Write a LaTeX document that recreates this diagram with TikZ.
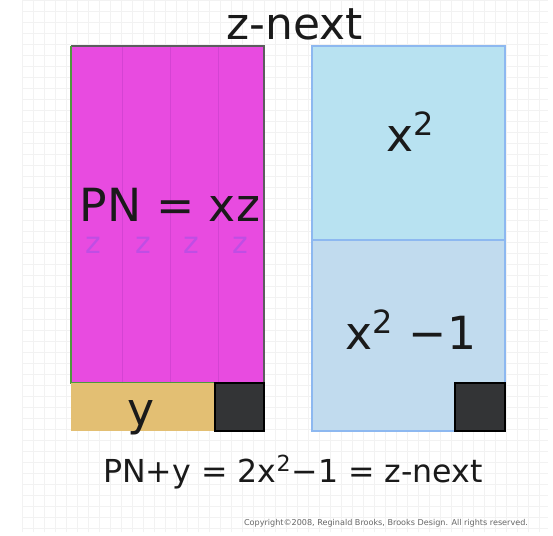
\documentclass[tikz,border=0pt]{standalone}
\usepackage{fontspec}
\setmainfont{DejaVu Sans}
\usepackage{xcolor}
\definecolor{pMagenta}{HTML}{E84BE0}
\definecolor{pStrip}{HTML}{C83FCB}
\definecolor{pEdge}{HTML}{4E9A3C}
\definecolor{pSky}{HTML}{B8E2F1}
\definecolor{pMist}{HTML}{C1DBEE}
\definecolor{pLine}{HTML}{8DB8F0}
\definecolor{pSand}{HTML}{E3BF73}
\definecolor{pDark}{HTML}{333436}
\definecolor{pInk}{HTML}{1A1A1A}
\definecolor{pZed}{HTML}{B04FE6}
\usepackage{tikz}
\usetikzlibrary{positioning}

\begin{document}
\begin{tikzpicture}[x=0.02cm, y=-0.02cm]
\useasboundingbox (0,0) rectangle (553,536);
\fill[white] (0,0) rectangle (553,536);
\draw[black!5, step=11*0.02cm] (22,0) grid (548,532);

% left block
\fill[pMagenta] (71,46) rectangle (264,383);
\foreach \sx in {122,170,218}
  \draw[pStrip, opacity=0.6] (\sx,46) -- (\sx,383);
\draw[pDark!80, line width=0.8pt] (71,46) -- (264,46) -- (264,383);
\draw[pEdge, line width=0.9pt] (71,46) -- (71,383) -- (264,383);
\fill[pSand] (71,383) rectangle (215,431);
\fill[pDark] (215,383) rectangle (264,431);
\draw[black, line width=0.6pt] (215,383) rectangle (264,431);

% right block
\fill[pSky] (312,46) rectangle (505,240);
\fill[pMist] (312,240) rectangle (505,431);
\draw[pLine, line width=1pt] (312,46) rectangle (505,431);
\draw[pLine, line width=1.4pt] (312,240) -- (505,240);
\fill[pDark] (455,383) rectangle (505,431);
\draw[black, line width=0.6pt] (455,383) rectangle (505,431);

\node[font=\fontsize{25}{28}\selectfont, color=pInk] (top) at (295,24) {z-next};
\node[font=\fontsize{26}{30}\selectfont, color=pInk, inner sep=0pt] (pn) at (170,205) {PN = xz};
\foreach \zx [count=\i] in {93,143,191,240}
  \node[font=\fontsize{17}{19}\selectfont, color=pZed, opacity=0.7, inner sep=0pt] (z\i) at (\zx,245) {z};
\node[font=\fontsize{26}{30}\selectfont, color=pInk] (yy) at (141,418) {y};
\node[font=\fontsize{26}{30}\selectfont, color=pInk] (sq) at (411,132) {x\textsuperscript{2}};
\node[font=\fontsize{26}{30}\selectfont, color=pInk] (sqm) at (411,330) {x\textsuperscript{2} −1};
\node[font=\fontsize{18}{22}\selectfont, color=pInk] (eq) at (293,472) {PN+y = 2x\textsuperscript{2}−1 = z-next};
\node[font=\fontsize{4.6}{5}\selectfont, color=black!60] (cr) at (386,523) {Copyright©2008, Reginald Brooks, Brooks Design. All rights reserved.};
\end{tikzpicture}
\end{document}
